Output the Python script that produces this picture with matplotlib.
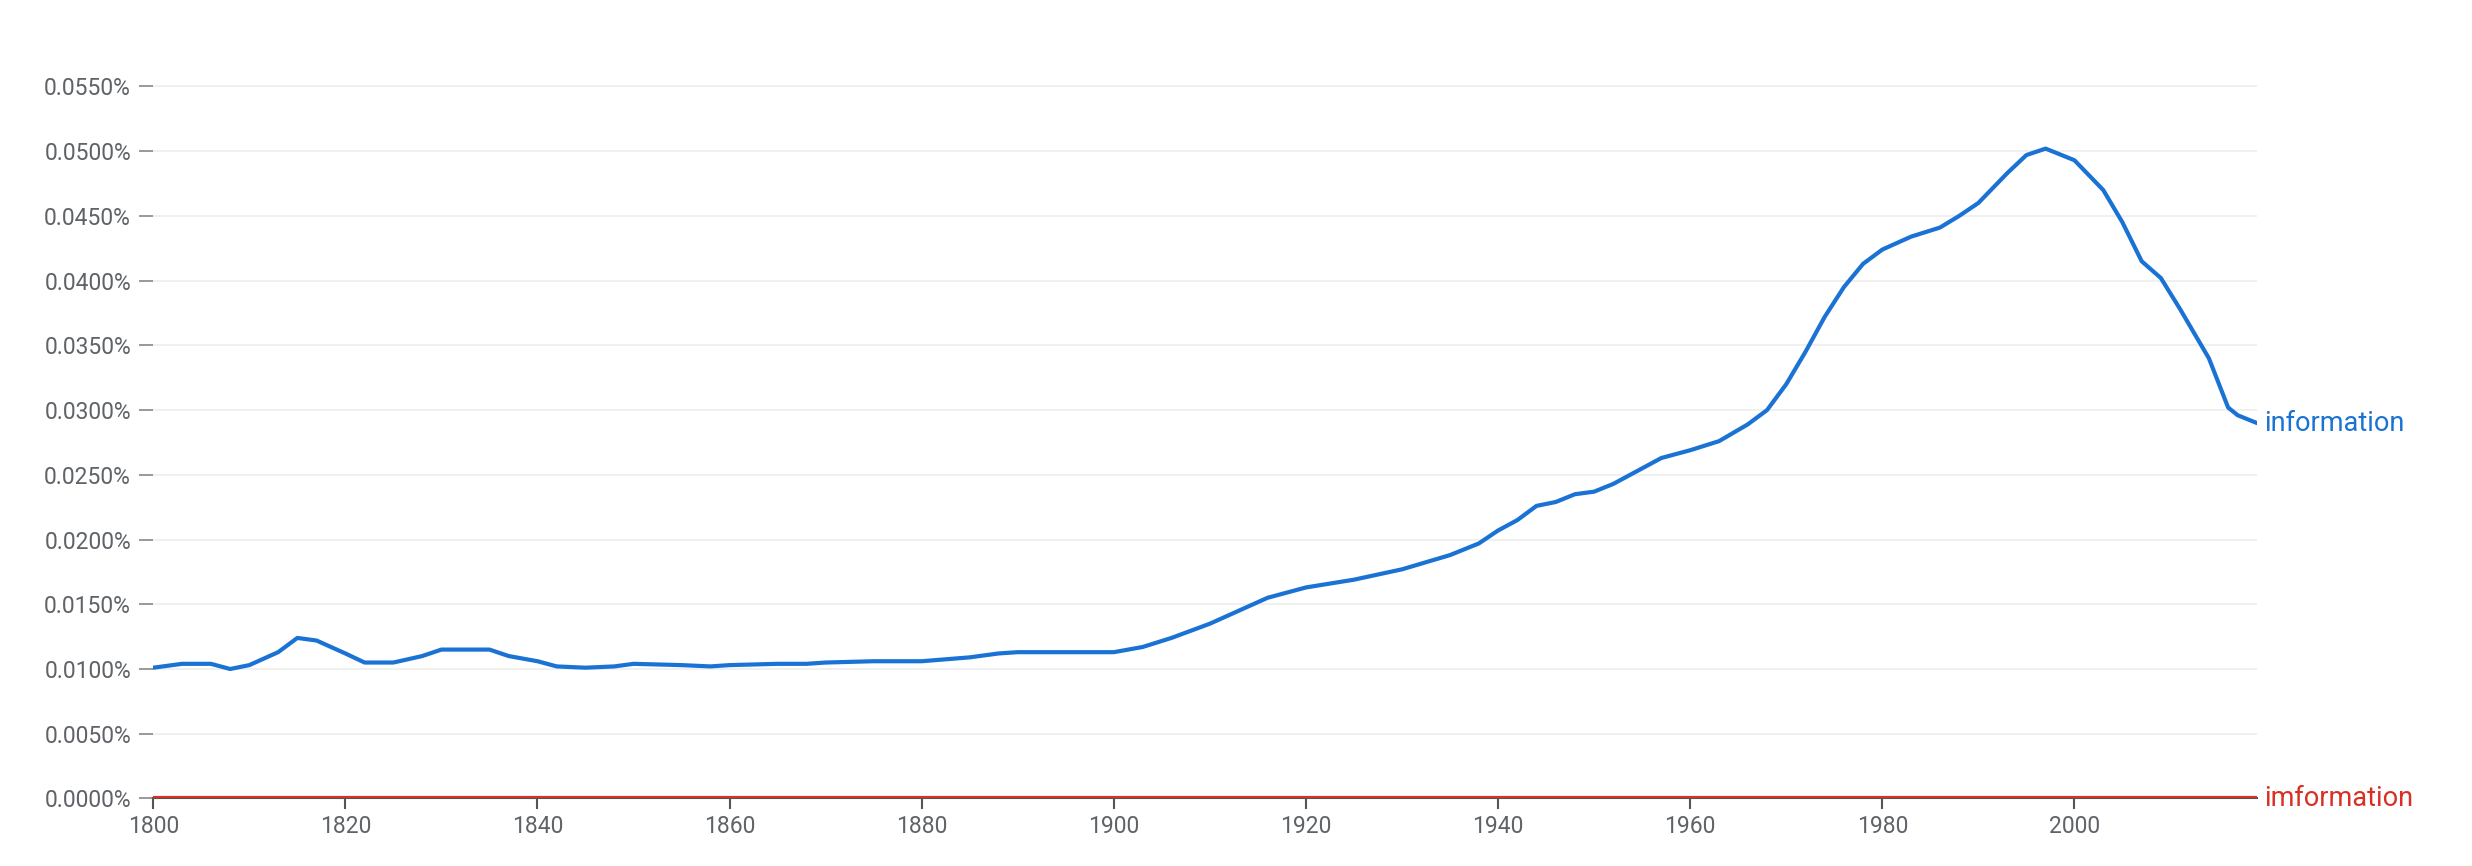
import matplotlib
matplotlib.use("Agg")
import matplotlib.pyplot as plt
from matplotlib.ticker import FuncFormatter

plt.rcParams["font.family"] = ["Roboto", "DejaVu Sans"]

# ── Data (percent) ───────────────────────────────────────────────────────────
years = [1800, 1803, 1806, 1808, 1810, 1813, 1815, 1817, 1820, 1822, 1825, 1828,
         1830, 1835, 1837, 1840, 1842, 1845, 1848, 1850, 1855, 1858, 1860, 1865,
         1868, 1870, 1875, 1880, 1885, 1888, 1890, 1895, 1900, 1903, 1906, 1910,
         1913, 1916, 1920, 1925, 1930, 1935, 1938, 1940, 1942, 1944, 1946, 1948,
         1950, 1952, 1955, 1957, 1960, 1963, 1966, 1968, 1970, 1972, 1974, 1976,
         1978, 1980, 1983, 1986, 1988, 1990, 1993, 1995, 1997, 2000, 2003, 2005,
         2007, 2009, 2011, 2014, 2016, 2017, 2019]
information = [0.0101, 0.0104, 0.0104, 0.0100, 0.0103, 0.0113, 0.0124, 0.0122,
               0.0112, 0.0105, 0.0105, 0.0110, 0.0115, 0.0115, 0.0110, 0.0106,
               0.0102, 0.0101, 0.0102, 0.0104, 0.0103, 0.0102, 0.0103, 0.0104,
               0.0104, 0.0105, 0.0106, 0.0106, 0.0109, 0.0112, 0.0113, 0.0113,
               0.0113, 0.0117, 0.0124, 0.0135, 0.0145, 0.0155, 0.0163, 0.0169,
               0.0177, 0.0188, 0.0197, 0.0207, 0.0215, 0.0226, 0.0229, 0.0235,
               0.0237, 0.0243, 0.0255, 0.0263, 0.0269, 0.0276, 0.0289, 0.0300,
               0.0320, 0.0345, 0.0372, 0.0395, 0.0413, 0.0424, 0.0434, 0.0441,
               0.0450, 0.0460, 0.0483, 0.0497, 0.0502, 0.0493, 0.0470, 0.0445,
               0.0415, 0.0402, 0.0378, 0.0340, 0.0302, 0.0296, 0.0290]
imformation = [0.0] * len(years)

BLUE = "#1a73d4"
RED = "#d93025"
GREY = "#5f6368"

fig = plt.figure(figsize=(24.72, 8.66), dpi=100)
ax = fig.add_axes([0.062, 0.078, 0.851, 0.867])

ax.plot(years, information, color=BLUE, lw=3, zorder=3, solid_capstyle="round",
        solid_joinstyle="round")
ax.plot(years, imformation, color=RED, lw=3, zorder=4)

ax.set_xlim(1800, 2019)
ax.set_ylim(0, 0.0580)
ax.set_yticks([i * 0.005 for i in range(12)])
ax.set_xticks(range(1800, 2001, 20))
ax.yaxis.set_major_formatter(FuncFormatter(lambda y, _: f"{y:.4f}%"))
ax.grid(axis="y", color="#ededed", lw=1.2, zorder=0)

for s in ("top", "right", "left"):
    ax.spines[s].set_visible(False)
ax.spines["bottom"].set_color("#555555")
ax.spines["bottom"].set_linewidth(1.5)
ax.tick_params(axis="y", length=10, width=1.2, color="#888888", labelsize=16.5,
               labelcolor=GREY, pad=6)
ax.tick_params(axis="x", length=8, width=1.5, color="#555555", labelsize=16.5,
               labelcolor=GREY, pad=4)

ax.annotate("information", xy=(years[-1], information[-1]), xytext=(5, 0),
            textcoords="offset points", va="center", fontsize=19.5, color=BLUE,
            annotation_clip=False)
ax.annotate("imformation", xy=(years[-1], imformation[-1]), xytext=(5, 0),
            textcoords="offset points", va="center", fontsize=19.5, color=RED,
            annotation_clip=False)

fig.savefig("out.png", dpi=100)
